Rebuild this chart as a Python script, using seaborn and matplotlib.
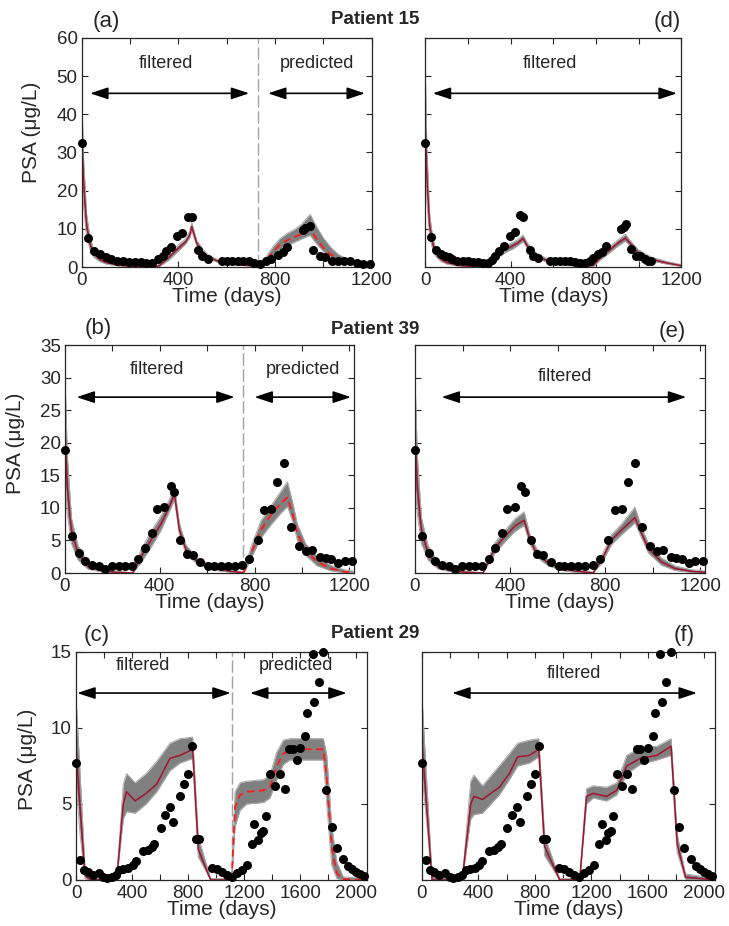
import numpy as np
import matplotlib
matplotlib.use('Agg')
import matplotlib.pyplot as plt
import seaborn as sns

sns.set_theme(style='ticks')
plt.rcParams['font.family'] = ['Liberation Sans', 'DejaVu Sans']

# ---------------- data ----------------
# Patient 15, panel (a)
t_p15a = [0, 25, 51, 76, 99, 121, 145, 172, 196, 221, 244, 266, 290, 314, 338, 348, 370, 393, 417, 441,
          455, 480, 497, 524, 579, 600, 621, 646, 669, 692, 714, 738, 761, 783, 814, 834, 848, 914, 924, 945,
          959, 986, 1007, 1034, 1062, 1087, 1110, 1138, 1166, 1193]
psa_p15a = [32.4, 7.7, 4.3, 3.4, 2.5, 2.0, 1.5, 1.5, 1.4, 1.3, 1.2, 1.0, 1.1, 2.0, 2.9, 4.1, 5.3, 8.1, 8.9, 13.2,
            13.0, 4.4, 3.0, 2.2, 1.5, 1.5, 1.5, 1.5, 1.5, 1.5, 1.1, 0.9, 1.5, 2.0, 3.1, 3.9, 5.3, 9.7, 10.2, 10.8,
            4.5, 2.8, 2.6, 1.7, 1.6, 1.5, 1.5, 1.1, 0.9, 0.9]
# Patient 15, panel (d)
t_p15d = [0, 25, 52, 72, 91, 109, 127, 150, 177, 200, 223, 247, 270, 294, 313, 328, 345, 369, 395, 419,
          442, 458, 489, 505, 528, 583, 606, 630, 653, 677, 700, 723, 747, 770, 786, 809, 830, 848, 919, 931,
          942, 966, 989, 1005, 1028, 1044, 1059]
psa_p15d = [32.4, 7.8, 4.5, 3.5, 2.9, 2.6, 2.0, 1.5, 1.5, 1.5, 1.4, 1.3, 1.0, 1.0, 1.9, 2.9, 4.3, 5.4, 8.1, 9.1,
            13.5, 13.2, 4.5, 2.9, 2.3, 1.5, 1.5, 1.5, 1.5, 1.5, 1.3, 1.0, 1.0, 1.7, 2.3, 3.5, 3.8, 5.6, 10.0, 10.5,
            11.2, 4.8, 2.9, 2.9, 2.0, 1.7, 1.7]
# Patient 39
t_p39 = [1, 29, 58, 86, 114, 142, 170, 198, 226, 254, 282, 310, 338, 366, 389, 420, 448, 462, 487, 515,
         539, 571, 605, 627, 658, 686, 717, 749, 778, 813, 841, 869, 894, 925, 953, 988, 1016, 1044, 1077, 1100,
         1124, 1152, 1180, 1213]
psa_p39 = [18.9, 5.7, 3.0, 1.9, 1.3, 1.1, 0.6, 1.1, 1.1, 1.1, 1.1, 2.1, 3.9, 6.2, 9.8, 10.1, 13.4, 12.5, 5.0, 2.9,
           2.8, 1.7, 1.1, 1.0, 1.1, 1.1, 1.1, 1.3, 2.1, 5.0, 9.6, 9.9, 13.9, 16.9, 7.1, 4.1, 3.4, 3.5, 2.4, 2.3,
           2.1, 1.5, 1.9, 1.9]
# Patient 29
t_p29 = [0, 29, 57, 88, 119, 166, 195, 223, 254, 285, 309, 338, 373, 404, 428, 475, 511, 540, 556, 604,
         635, 670, 694, 742, 772, 801, 830, 856, 875, 972, 1003, 1039, 1074, 1110, 1146, 1181, 1217, 1253, 1272, 1300,
         1317, 1336, 1355, 1383, 1419, 1455, 1490, 1521, 1545, 1574, 1597, 1633, 1650, 1688, 1700, 1730, 1762, 1783,
         1823, 1859, 1902, 1937, 1966, 1997, 2025, 2054]
psa_p29 = [7.7, 1.3, 0.66, 0.55, 0.33, 0.44, 0.22, 0.11, 0.18, 0.33, 0.66, 0.70, 0.81, 0.99, 1.25, 1.9, 2.0, 2.2, 2.4, 3.4,
           4.3, 4.8, 3.8, 5.5, 6.3, 7.0, 8.8, 2.7, 2.7, 0.81, 0.70, 0.55, 0.33, 0.22, 0.44, 0.66, 0.99, 2.4, 3.7, 2.6,
           3.1, 3.2, 4.2, 7.0, 6.2, 7.0, 6.0, 8.6, 8.6, 7.9, 8.7, 9.5, 11.0, 14.9, 11.7, 13.0, 15.0, 5.9,
           3.5, 2.1, 1.4, 0.92, 0.70, 0.55, 0.39, 0.26]

# model ensemble: mean, lower / upper envelope
# (a) filtered / predicted
t_a_fil = [0, 8, 20, 35, 50, 75, 100, 150, 200, 250, 300, 320, 360, 400, 430, 448, 455, 476, 500, 525, 560, 600, 650, 700, 730]
m_a_fil = [35, 22, 11, 6, 3.5, 2.0, 1.2, 0.5, 0.2, 0.08, 0.05, 0.3, 2.5, 4.9, 6.6, 8.5, 10.6, 6.2, 4.0, 2.6, 1.6, 1.0, 0.6, 0.35, 0.3]
lo_a_fil = [26, 16, 8, 4.5, 2.6, 1.4, 0.8, 0.3, 0.1, 0.02, 0.0, 0.1, 1.8, 4.2, 6.0, 7.8, 9.6, 5.6, 3.5, 2.2, 1.3, 0.8, 0.45, 0.25, 0.2]
hi_a_fil = [45, 28, 14, 7.5, 4.5, 2.6, 1.7, 0.8, 0.4, 0.2, 0.2, 0.7, 3.3, 5.8, 7.4, 9.5, 11.8, 7.0, 4.7, 3.1, 2.0, 1.3, 0.8, 0.5, 0.45]
t_a_pre = [730, 760, 790, 820, 850, 880, 910, 945, 970, 1000, 1030, 1060, 1100, 1150, 1200]
m_a_pre = [0.3, 1.6, 3.8, 5.9, 7.0, 7.8, 8.7, 10.0, 7.5, 5.0, 3.3, 2.2, 1.3, 0.6, 0.3]
lo_a_pre = [0.2, 1.0, 2.8, 4.6, 5.6, 6.5, 7.4, 8.3, 6.2, 4.1, 2.6, 1.7, 1.0, 0.4, 0.2]
hi_a_pre = [0.5, 2.4, 5.2, 7.4, 8.8, 9.8, 11.2, 13.8, 10.8, 7.6, 5.2, 3.4, 2.0, 1.0, 0.5]
# (d)
t_d = [0, 8, 20, 35, 50, 75, 100, 150, 200, 262, 294, 333, 372, 411, 434, 458, 481, 512, 559, 622, 700, 762,
       790, 817, 856, 903, 938, 966, 997, 1059, 1137, 1200]
m_d = [37, 23, 11, 6, 3.6, 2.0, 1.2, 0.5, 0.2, 0.05, 1.0, 2.9, 4.5, 5.6, 6.3, 7.5, 5.2, 3.2, 1.9, 1.0, 0.44, 0.2,
       0.5, 2.3, 4.1, 6.3, 7.6, 5.8, 3.8, 2.0, 1.0, 0.35]
lo_d = [27, 17, 8, 4.5, 2.7, 1.4, 0.8, 0.3, 0.1, 0.0, 0.5, 2.2, 3.7, 4.8, 5.6, 6.7, 4.5, 2.6, 1.5, 0.7, 0.25, 0.05,
        0.2, 1.7, 3.4, 5.5, 6.8, 5.1, 3.2, 1.6, 0.7, 0.2]
hi_d = [51, 30, 14, 7.5, 4.6, 2.6, 1.7, 0.8, 0.4, 0.3, 1.6, 3.8, 5.4, 6.5, 7.2, 8.4, 6.1, 4.0, 2.5, 1.4, 0.8, 0.5,
        0.9, 3.0, 4.9, 7.1, 8.6, 6.6, 4.6, 2.6, 1.4, 0.6]
# (b) filtered / predicted
t_b_fil = [0, 10, 27, 55, 97, 153, 200, 251, 286, 321, 364, 406, 441, 462, 483, 511, 560, 630, 700, 750]
m_b_fil = [22, 13, 6.6, 3.0, 1.0, 0.36, 0.15, 0.05, 0.0, 2.5, 5.1, 7.6, 10.2, 12.1, 6.6, 3.5, 1.7, 0.7, 0.26, 0.05]
lo_b_fil = [15, 9, 4.5, 2.0, 0.6, 0.2, 0.05, 0.0, 0.0, 1.6, 4.0, 6.6, 9.5, 11.2, 5.8, 2.9, 1.3, 0.45, 0.1, 0.0]
hi_b_fil = [30, 18, 8.5, 4.2, 1.6, 0.7, 0.35, 0.15, 0.05, 3.6, 6.4, 8.8, 11.3, 13.3, 7.6, 4.3, 2.2, 1.0, 0.45, 0.15]
t_b_pre = [750, 756, 785, 827, 869, 911, 939, 960, 981, 1016, 1065, 1121, 1178, 1217]
m_b_pre = [0.05, 0.2, 3.0, 6.6, 8.9, 10.7, 11.6, 9.2, 6.1, 3.5, 1.7, 0.7, 0.2, 0.1]
lo_b_pre = [0.0, 0.1, 2.2, 5.4, 7.4, 9.2, 10.2, 8.0, 5.0, 2.7, 1.1, 0.35, 0.05, 0.0]
hi_b_pre = [0.15, 0.4, 4.0, 8.0, 10.3, 12.5, 14.0, 11.0, 7.5, 4.5, 2.5, 1.2, 0.5, 0.3]
# (e)
t_e = [0, 10, 27, 55, 97, 153, 200, 251, 286, 335, 378, 420, 459, 483, 511, 560, 630, 700, 749, 785, 827, 869,
       925, 953, 981, 1037, 1093, 1163, 1220]
m_e = [21.4, 13, 6.6, 3.0, 1.0, 0.36, 0.15, 0.05, 0.0, 3.8, 5.6, 7.2, 8.1, 5.1, 3.0, 1.5, 0.56, 0.2, 0.0, 2.0, 5.1, 6.6,
       8.5, 6.1, 3.8, 1.7, 0.7, 0.26, 0.1]
lo_e = [14, 9, 4.5, 2.0, 0.6, 0.2, 0.05, 0.0, 0.0, 3.0, 4.8, 6.4, 7.3, 4.5, 2.5, 1.1, 0.3, 0.05, 0.0, 1.5, 4.4, 5.9,
        7.7, 5.4, 3.1, 1.2, 0.4, 0.1, 0.0]
hi_e = [29.6, 18, 8.5, 4.2, 1.6, 0.7, 0.35, 0.15, 0.05, 4.6, 6.5, 8.3, 9.4, 6.0, 3.8, 2.0, 0.9, 0.4, 0.15, 2.6, 5.9, 7.5,
        10.1, 7.0, 4.6, 2.3, 1.1, 0.5, 0.3]
# (c) filtered / predicted
t_c_fil = [0, 29, 64, 100, 200, 290, 337, 361, 421, 500, 575, 670, 742, 832, 872, 960, 1110]
m_c_fil = [8.7, 4.8, 0.3, 0.05, 0.0, 0.0, 5.0, 5.8, 5.2, 5.7, 6.3, 8.0, 8.2, 8.6, 2.0, 0.0, 0.0]
lo_c_fil = [6.5, 3.0, 0.1, 0.0, 0.0, 0.0, 4.0, 4.5, 4.4, 5.0, 5.8, 7.2, 7.7, 8.0, 1.5, 0.0, 0.0]
hi_c_fil = [12.0, 7.0, 0.8, 0.15, 0.05, 0.05, 6.3, 7.0, 6.4, 7.0, 7.8, 9.0, 9.3, 9.4, 2.8, 0.1, 0.1]
t_c_pre = [1110, 1134, 1170, 1217, 1336, 1383, 1431, 1478, 1526, 1764, 1788, 1823, 1859, 1906, 2075]
m_c_pre = [0.0, 4.8, 5.6, 5.8, 5.9, 6.1, 7.5, 8.3, 8.6, 8.6, 6.6, 2.2, 0.44, 0.05, 0.0]
lo_c_pre = [0.0, 3.5, 4.6, 5.0, 5.1, 5.4, 6.6, 7.6, 7.9, 7.9, 5.0, 1.0, 0.1, 0.0, 0.0]
hi_c_pre = [0.2, 5.8, 6.4, 6.5, 6.6, 6.9, 8.4, 9.2, 9.3, 9.3, 8.2, 3.6, 1.2, 0.2, 0.1]
# (f)
t_f = [0, 71, 285, 345, 368, 428, 547, 618, 677, 761, 827, 868, 975, 1117, 1165, 1212, 1307, 1379, 1450, 1545,
       1664, 1764, 1807, 1866, 2075]
m_f = [9.0, 0.0, 0.0, 5.0, 5.5, 5.3, 6.1, 7.0, 8.1, 8.2, 8.6, 2.2, 0.0, 0.0, 5.5, 5.7, 5.5, 5.9, 7.5, 8.0,
       8.2, 8.8, 2.4, 0.18, 0.0]
lo_f = [7.0, 0.0, 0.0, 4.0, 4.3, 4.4, 5.6, 6.6, 7.5, 7.7, 8.1, 1.6, 0.0, 0.0, 5.0, 5.4, 5.2, 5.6, 7.0, 7.6,
        7.9, 8.2, 1.8, 0.05, 0.0]
hi_f = [12.0, 0.3, 0.05, 6.5, 6.9, 6.2, 7.5, 8.3, 9.0, 9.2, 9.3, 2.9, 0.1, 0.1, 6.0, 6.2, 6.1, 6.4, 8.2, 8.7,
        8.8, 9.3, 3.0, 0.4, 0.1]

# ---------------- styling ----------------
GRAY = '#808080'
EDGE = '#a8a8a8'
DARKRED = '#a2142f'
AXC = '#262626'

fig = plt.figure(figsize=(7.29, 9.26), dpi=100)
W, H = 729.0, 926.0


def add_axes(left, right, top, bottom):
    return fig.add_axes([left / W, 1 - bottom / H, (right - left) / W, (bottom - top) / H])


def style_axis(ax, xmax, xstep, ymax, ystep, ylab=None):
    ax.set_xlim(0, xmax)
    ax.set_ylim(0, ymax)
    xt = np.arange(0, xmax + 1, 200)
    ax.set_xticks(xt)
    ax.set_xticklabels([str(int(v)) if v % xstep == 0 else '' for v in xt])
    yt = np.arange(0, ymax + 0.1, ystep)
    ax.set_yticks(yt)
    if ylab is None:
        ax.set_yticklabels([])
    else:
        ax.set_yticklabels([str(int(v)) for v in yt])
        ax.set_ylabel('PSA (μg/L)', fontsize=15, color=AXC)
        ax.yaxis.set_label_coords(*ylab)
    ax.tick_params(direction='in', top=True, right=True, length=4, width=0.8,
                   colors=AXC, labelsize=13.5)
    ax.tick_params(axis='x', pad=3.5)
    ax.tick_params(axis='y', pad=3)
    for sp in ax.spines.values():
        sp.set_color(AXC)
        sp.set_linewidth(0.9)
    ax.set_xlabel('Time (days)', fontsize=15, color=AXC, labelpad=-1)
    ax.grid(False)


def draw_model(ax, t, m, lo, hi, dashed=False):
    ax.fill_between(t, lo, hi, color=GRAY, lw=0, zorder=1)
    ax.plot(t, hi, color=EDGE, lw=0.7, zorder=1.5)
    ax.plot(t, lo, color=EDGE, lw=0.7, zorder=1.5)
    if dashed:
        sns.lineplot(x=t, y=m, ax=ax, color='#ff1a1a', lw=1.3, linestyle=(0, (4, 2.5)),
                     sort=False, estimator=None, zorder=2)
    else:
        sns.lineplot(x=t, y=m, ax=ax, color=DARKRED, lw=1.1, sort=False, estimator=None, zorder=2)


def draw_data(ax, t, psa):
    sns.scatterplot(x=t, y=psa, ax=ax, color='black', s=42, linewidth=0, zorder=3,
                    clip_on=False, legend=False)


def arrow(ax, x0, x1, y):
    ax.annotate('', xy=(x1, y), xytext=(x0, y),
                arrowprops=dict(arrowstyle='<|-|>,head_length=0.9,head_width=0.3',
                                color='black', lw=1.2, shrinkA=0, shrinkB=0))


def split_line(ax, x):
    ax.axvline(x, color='#a3a3a3', lw=1.0, dashes=(9, 2.5), zorder=0.5)


# (a)
ax = add_axes(81.7, 371.7, 38, 267)
draw_model(ax, t_a_fil, m_a_fil, lo_a_fil, hi_a_fil)
draw_model(ax, t_a_pre, m_a_pre, lo_a_pre, hi_a_pre, dashed=True)
draw_data(ax, t_p15a, psa_p15a)
split_line(ax, 730)
arrow(ax, 35, 693, 45.5)
arrow(ax, 771, 1172, 45.5)
ax.text(348, 53.4, 'filtered', ha='center', va='center', fontsize=13)
ax.text(973, 53.4, 'predicted', ha='center', va='center', fontsize=13)
style_axis(ax, 1200, 400, 60, 10, ylab=(-0.14, 0.59))

# (d)
ax = add_axes(425.3, 681.3, 38, 267)
draw_model(ax, t_d, m_d, lo_d, hi_d)
draw_data(ax, t_p15d, psa_p15d)
arrow(ax, 35, 1179, 45.5)
ax.text(584, 53.2, 'filtered', ha='center', va='center', fontsize=13)
style_axis(ax, 1200, 400, 60, 10)

# (b)
ax = add_axes(65, 354, 345, 573)
draw_model(ax, t_b_fil, m_b_fil, lo_b_fil, hi_b_fil)
draw_model(ax, t_b_pre, m_b_pre, lo_b_pre, hi_b_pre, dashed=True)
draw_data(ax, t_p39, psa_p39)
split_line(ax, 750)
arrow(ax, 49, 716, 27)
arrow(ax, 800, 1207, 27)
ax.text(386, 31.2, 'filtered', ha='center', va='center', fontsize=13)
ax.text(1003, 31.2, 'predicted', ha='center', va='center', fontsize=13)
style_axis(ax, 1220, 400, 35, 5, ylab=(-0.14, 0.57))

# (e)
ax = add_axes(415, 705, 345, 573)
draw_model(ax, t_e, m_e, lo_e, hi_e)
draw_data(ax, t_p39, psa_p39)
arrow(ax, 112, 1141, 27)
ax.text(632, 30.2, 'filtered', ha='center', va='center', fontsize=13)
style_axis(ax, 1220, 400, 35, 5)

# (c)
ax = add_axes(76, 367, 652, 880)
draw_model(ax, t_c_fil, m_c_fil, lo_c_fil, hi_c_fil)
draw_model(ax, t_c_pre, m_c_pre, lo_c_pre, hi_c_pre, dashed=True)
draw_data(ax, t_p29, psa_p29)
split_line(ax, 1110)
arrow(ax, 9, 1103, 12.3)
arrow(ax, 1241, 1930, 12.3)
ax.text(480, 14.1, 'filtered', ha='center', va='center', fontsize=13)
ax.text(1569, 14.1, 'predicted', ha='center', va='center', fontsize=13)
style_axis(ax, 2075, 400, 15, 5, ylab=(-0.135, 0.53))

# (f)
ax = add_axes(422, 715, 652, 880)
draw_model(ax, t_f, m_f, lo_f, hi_f)
draw_data(ax, t_p29, psa_p29)
arrow(ax, 214, 1947, 12.3)
ax.text(1075, 13.6, 'filtered', ha='center', va='center', fontsize=13)
style_axis(ax, 2075, 400, 15, 5)

# titles and panel letters
for txt, y in [('Patient 15', 20), ('Patient 39', 330), ('Patient 29', 633)]:
    fig.text(375 / W, 1 - y / H, txt, ha='center', va='center', fontsize=13.5, fontweight='bold')
for txt, x, y in [('(a)', 106, 21), ('(d)', 667, 21), ('(b)', 98, 329), ('(e)', 672, 331),
                  ('(c)', 97, 635), ('(f)', 684, 636)]:
    fig.text(x / W, 1 - y / H, txt, ha='center', va='center', fontsize=16)

fig.savefig('out.png', dpi=100)
